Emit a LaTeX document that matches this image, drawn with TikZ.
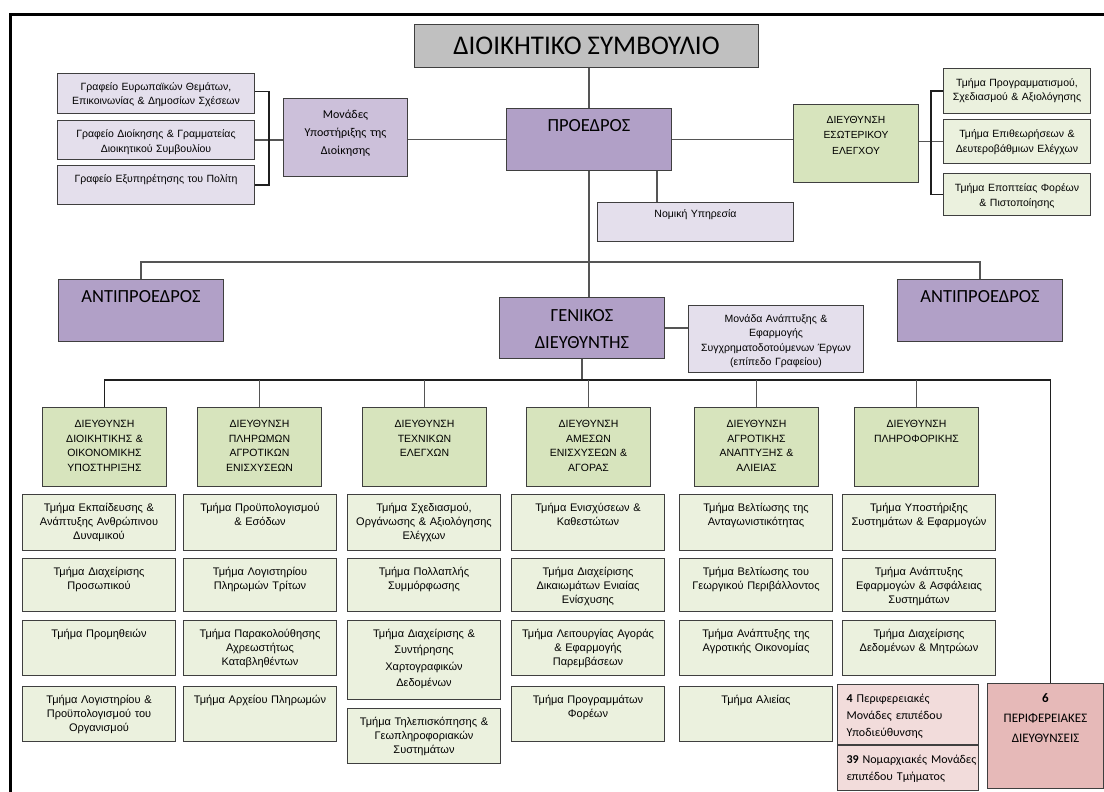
\documentclass[tikz,border=0pt]{standalone}
\usepackage{fontspec}
\setmainfont{Carlito}
\newfontfamily\tahoma{Liberation Sans}
\usepackage{tikz}
\usetikzlibrary{positioning}

\definecolor{titlegray}{HTML}{C0C0C0}
\definecolor{prespurple}{HTML}{B1A0C7}
\definecolor{unitpurple}{HTML}{CCC0DA}
\definecolor{paleviolet}{HTML}{E4DFEC}
\definecolor{dirgreen}{HTML}{D7E4BD}
\definecolor{deptgreen}{HTML}{EBF1DE}
\definecolor{palepink}{HTML}{F2DCDB}
\definecolor{rosepink}{HTML}{E6B9B8}
\definecolor{edgegray}{HTML}{3F3F3F}
\definecolor{linkgray}{HTML}{555555}
\definecolor{darkline}{HTML}{1F1F1F}

\newcommand{\orgtitle}{\fontsize{27}{30}\selectfont}
\newcommand{\orghead}{\fontsize{18.5}{27}\selectfont}
\newcommand{\orgunit}{\fontsize{12}{18.3}\selectfont}
\newcommand{\orgsmall}{\tahoma\fontsize{10.5}{14.5}\selectfont}
\newcommand{\orgiac}{\tahoma\fontsize{10.3}{15.5}\selectfont}
\newcommand{\orgdir}{\tahoma\fontsize{10.5}{14.5}\selectfont}
\newcommand{\orgdept}{\tahoma\fontsize{11}{14.3}\selectfont}
\newcommand{\orgpink}{\fontsize{12}{17}\selectfont}
\newcommand{\orgreg}{\fontsize{13}{20}\selectfont}

\begin{document}
\begin{tikzpicture}[x=1pt, y=-1pt,
  box/.style = {draw=edgegray, line width=1pt, inner xsep=2pt, inner ysep=0pt, align=center},
  head/.style = {box, fill=prespurple, font=\orghead, text width=161pt, text height=23pt, text depth=39pt},
  office/.style = {box, fill=paleviolet, font=\orgsmall, text width=193pt, text height=17pt, text depth=23pt},
  audit/.style = {box, fill=deptgreen, font=\orgsmall, text width=143pt, text height=18pt},
  dir/.style = {box, fill=dirgreen, font=\orgdir, text width=120pt, text height=20pt, text depth=59pt},
  dept/.style = {box, fill=deptgreen, font=\orgdept, text width=149pt, text height=16.5pt, text depth=38.5pt},
  pink/.style = {box, fill=palepink, font=\orgpink, align=left, inner xsep=9pt, text width=123pt, text height=18pt},
  link/.style = {draw=linkgray, line width=1.2pt},
  dlink/.style = {draw=darkline, line width=1.2pt}
]
\useasboundingbox (0,0) rectangle (1104,792);
\clip (0,0) rectangle (1104,792);

% frame
\draw[line width=3pt] (10,800) -- (10,15) -- (1110,15);

% board, president and the units around him
\node[box, fill=titlegray, anchor=north west, minimum width=344pt, minimum height=43pt, font=\orgtitle] (board) at (414,24) {ΔΙΟΙΚΗΤΙΚΟ ΣΥΜΒΟΥΛΙΟ};
\node[head, anchor=north west] (pres) at (506,108) {ΠΡΟΕΔΡΟΣ};
\node[box, fill=unitpurple, anchor=north west, font=\orgunit, text width=120pt, text height=19.5pt, text depth=58.5pt] (supp) at (283,98) {Μονάδες\\Υποστήριξης της\\Διοίκησης};
\node[office, anchor=north west] (off1) at (57,73) {Γραφείο Ευρωπαϊκών Θεμάτων,\\Επικοινωνίας \& Δημοσίων Σχέσεων};
\node[office, below=6pt of off1, text depth=22pt] (off2) {Γραφείο Διοίκησης \& Γραμματείας\\Διοικητικού Συμβουλίου};
\node[office, below=5pt of off2, text depth=22pt] (off3) {Γραφείο Εξυπηρέτησης του Πολίτη};
\node[box, fill=paleviolet, anchor=north west, font=\orgsmall, text width=192pt, text height=15pt, text depth=24pt] (legal) at (597,202) {Νομική Υπηρεσία};
\node[box, fill=dirgreen, anchor=north west, font=\orgiac, text width=121pt, text height=19pt, text depth=59pt] (iac) at (793,104) {ΔΙΕΥΘΥΝΣΗ\\ΕΣΩΤΕΡΙΚΟΥ\\ΕΛΕΓΧΟΥ};
\node[audit, anchor=north west, text depth=27pt] (aud1) at (943,68) {Τμήμα Προγραμματισμού,\\Σχεδιασμού \& Αξιολόγησης};
\node[audit, below=5pt of aud1, text depth=26pt] (aud2) {Τμήμα Επιθεωρήσεων \&\\Δευτεροβάθμιων Ελέγχων};
\node[audit, below=9pt of aud2, text depth=24pt] (aud3) {Τμήμα Εποπτείας Φορέων\\\& Πιστοποίησης};

% vice presidents and general director
\node[head, anchor=north west] (vice1) at (58,279) {ΑΝΤΙΠΡΟΕΔΡΟΣ};
\node[head, anchor=north west] (vice2) at (897,279) {ΑΝΤΙΠΡΟΕΔΡΟΣ};
\node[head, anchor=north west, text height=24pt, text depth=37pt] (gen) at (499,297) {ΓΕΝΙΚΟΣ\\ΔΙΕΥΘΥΝΤΗΣ};
\node[box, fill=paleviolet, anchor=north west, font=\orgsmall, text width=171pt, text height=16.5pt, text depth=50.5pt] (proj) at (688,305) {Μονάδα Ανάπτυξης \&\\Εφαρμογής\\Συγχρηματοδοτούμενων Έργων\\(επίπεδο Γραφείου)};

% directorates
\node[dir, anchor=north west] (dir1) at (42,407) {ΔΙΕΥΘΥΝΣΗ\\ΔΙΟΙΚΗΤΙΚΗΣ \&\\ΟΙΚΟΝΟΜΙΚΗΣ\\ΥΠΟΣΤΗΡΙΞΗΣ};
\node[dir, anchor=north west] (dir2) at (197,407) {ΔΙΕΥΘΥΝΣΗ\\ΠΛΗΡΩΜΩΝ\\ΑΓΡΟΤΙΚΩΝ\\ΕΝΙΣΧΥΣΕΩΝ};
\node[dir, anchor=north west] (dir3) at (362,407) {ΔΙΕΥΘΥΝΣΗ\\ΤΕΧΝΙΚΩΝ\\ΕΛΕΓΧΩΝ};
\node[dir, anchor=north west] (dir4) at (526,407) {ΔΙΕΥΘΥΝΣΗ\\ΑΜΕΣΩΝ\\ΕΝΙΣΧΥΣΕΩΝ \&\\ΑΓΟΡΑΣ};
\node[dir, anchor=north west] (dir5) at (694,407) {ΔΙΕΥΘΥΝΣΗ\\ΑΓΡΟΤΙΚΗΣ\\ΑΝΑΠΤΥΞΗΣ \&\\ΑΛΙΕΙΑΣ};
\node[dir, anchor=north west] (dir6) at (854,407) {ΔΙΕΥΘΥΝΣΗ\\ΠΛΗΡΟΦΟΡΙΚΗΣ};

% departments
\node[dept, anchor=north west, text depth=39.5pt] (c1a) at (22,494) {Τμήμα Εκπαίδευσης \&\\Ανάπτυξης Ανθρώπινου\\Δυναμικού};
\node[dept, below=7pt of c1a, text depth=36.5pt] (c1b) {Τμήμα Διαχείρισης\\Προσωπικού};
\node[dept, below=8pt of c1b] (c1c) {Τμήμα Προμηθειών};
\node[dept, below=10pt of c1c] (c1d) {Τμήμα Λογιστηρίου \&\\Προϋπολογισμού του\\Οργανισμού};

\node[dept, anchor=north west, text depth=39.5pt] (c2a) at (183,494) {Τμήμα Προϋπολογισμού\\\& Εσόδων};
\node[dept, below=7pt of c2a, text depth=36.5pt] (c2b) {Τμήμα Λογιστηρίου\\Πληρωμών Τρίτων};
\node[dept, below=8pt of c2b] (c2c) {Τμήμα Παρακολούθησης\\Αχρεωστήτως\\Καταβληθέντων};
\node[dept, below=10pt of c2c] (c2d) {Τμήμα Αρχείου Πληρωμών};

\node[dept, anchor=north west, text depth=39.5pt] (c3a) at (347,494) {Τμήμα Σχεδιασμού,\\Οργάνωσης \& Αξιολόγησης\\Ελέγχων};
\node[dept, below=7pt of c3a, text depth=36.5pt] (c3b) {Τμήμα Πολλαπλής\\Συμμόρφωσης};
\node[dept, below=8pt of c3b, font=\tahoma\fontsize{11}{16.5}\selectfont, text depth=62.5pt] (c3c) {Τμήμα Διαχείρισης \&\\Συντήρησης\\Χαρτογραφικών\\Δεδομένων};
\node[dept, below=8pt of c3c] (c3d) {Τμήμα Τηλεπισκόπησης \&\\Γεωπληροφοριακών\\Συστημάτων};

\node[dept, anchor=north west, text depth=39.5pt] (c4a) at (511,494) {Τμήμα Ενισχύσεων \&\\Καθεστώτων};
\node[dept, below=7pt of c4a, text depth=36.5pt] (c4b) {Τμήμα Διαχείρισης\\Δικαιωμάτων Ενιαίας\\Ενίσχυσης};
\node[dept, below=8pt of c4b] (c4c) {Τμήμα Λειτουργίας Αγοράς\\\& Εφαρμογής\\Παρεμβάσεων};
\node[dept, below=10pt of c4c] (c4d) {Τμήμα Προγραμμάτων\\Φορέων};

\node[dept, anchor=north west, text depth=39.5pt] (c5a) at (679,494) {Τμήμα Βελτίωσης της\\Ανταγωνιστικότητας};
\node[dept, below=7pt of c5a, text depth=36.5pt] (c5b) {Τμήμα Βελτίωσης του\\Γεωργικού Περιβάλλοντος};
\node[dept, below=8pt of c5b] (c5c) {Τμήμα Ανάπτυξης της\\Αγροτικής Οικονομίας};
\node[dept, below=10pt of c5c] (c5d) {Τμήμα Αλιείας};

\node[dept, anchor=north west, text depth=39.5pt] (c6a) at (842,494) {Τμήμα Υποστήριξης\\Συστημάτων \& Εφαρμογών};
\node[dept, below=7pt of c6a, text depth=36.5pt] (c6b) {Τμήμα Ανάπτυξης\\Εφαρμογών \& Ασφάλειας\\Συστημάτων};
\node[dept, below=8pt of c6b] (c6c) {Τμήμα Διαχείρισης\\Δεδομένων \& Μητρώων};

% regional units
\node[pink, anchor=north west, text depth=42pt] (sub4) at (837,684) {\textbf{4} Περιφερειακές\\Μονάδες επιπέδου\\Υποδιεύθυνσης};
\node[pink, below=0pt of sub4, text depth=27pt] (pref39) {\mbox{\textbf{39} Νομαρχιακές Μονάδες}\\επιπέδου Τμήματος};
\node[box, fill=rosepink, anchor=north west, font=\orgreg, text width=112pt, text height=19pt, text depth=86pt] (reg) at (987,683) {\textbf{6}\\ΠΕΡΙΦΕΡΕΙΑΚΕΣ\\ΔΙΕΥΘΥΝΣΕΙΣ};

% connectors
\coordinate (lbar) at (269,0);
\coordinate (rbar) at (931,0);
\coordinate (vbus) at (0,262);
\coordinate (dbus) at (0,380);
\draw[link] (pres.north |- board.south) -- (pres.north);
\draw[link] (pres.west) -- (pres.west -| supp.east);
\draw[link] (pres.east) -- (pres.east -| iac.west);
\draw[link] ([xshift=60pt]legal.north west) -- ([xshift=60pt]legal.north west |- pres.south);
\draw[link] (off2.east) -- (off2.east -| supp.west);
\draw[dlink] ([yshift=2pt]off1.east) -| (lbar |- off3.east) -- (off3.east);
\draw[link] (aud2.west) -- (aud2.west -| iac.east);
\draw[dlink] (aud1.west) -| (rbar |- aud3.west) -- (aud3.west);
\draw[link] (pres.south) -- (pres.south |- gen.north);
\draw[link] (vice1.north) |- (vbus -| vice2.north) -- (vice2.north);
\draw[link] (gen.east) -- (gen.east -| proj.west);
\draw[link] (gen.south) -- (gen.south |- dbus);
\draw[dlink] (dir1.north) |- ([xshift=5pt]dbus -| reg.north) -- ([xshift=5pt]reg.north);
\foreach \d in {2,...,6}
  \draw[link] (dir\d.north) -- (dir\d.north |- dbus);
\end{tikzpicture}
\end{document}
